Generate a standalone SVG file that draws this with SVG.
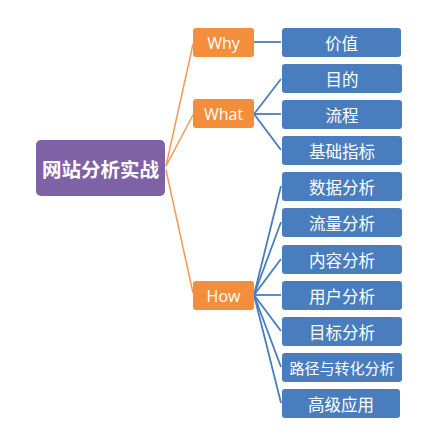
<svg xmlns="http://www.w3.org/2000/svg" width="441" height="439" viewBox="0 0 441 439">
<style>
.root{fill:#7f62a6}
.mid{fill:#f28e3c}
.leaf{fill:#4a7dbd}
text{fill:#fff;font-family:"Noto Sans CJK SC","Noto Sans",sans-serif;text-anchor:middle;dominant-baseline:central}
.t1{font-size:19.5px;font-weight:bold}
.t2{font-size:16px;font-family:"Open Sans","Noto Sans",sans-serif}
.t3{font-size:16.5px}
.t4{font-size:15px}
.lo{stroke:#f2995a;stroke-width:1.5;fill:none}
.lb{stroke:#4a7dbd;stroke-width:1.8;fill:none}
</style>
<rect width="441" height="439" fill="#fff"/>
<g id="connectors">
<line class="lo" x1="166" y1="166" x2="193" y2="44"/>
<line class="lo" x1="166" y1="166" x2="193" y2="115"/>
<line class="lo" x1="166" y1="170" x2="193" y2="293"/>
<line class="lb" x1="254" y1="42" x2="281" y2="42"/>
<line class="lb" x1="254" y1="114" x2="281" y2="79"/>
<line class="lb" x1="254" y1="114" x2="281" y2="114"/>
<line class="lb" x1="254" y1="114" x2="281" y2="150"/>
<line class="lb" x1="254" y1="295" x2="281" y2="186"/>
<line class="lb" x1="254" y1="295" x2="281" y2="222"/>
<line class="lb" x1="254" y1="295" x2="281" y2="259"/>
<line class="lb" x1="254" y1="295" x2="281" y2="295"/>
<line class="lb" x1="254" y1="295" x2="281" y2="331"/>
<line class="lb" x1="254" y1="295" x2="281" y2="367"/>
<line class="lb" x1="254" y1="295" x2="281" y2="403"/>
</g>
<g id="root"><rect class="root" x="36" y="140" width="129" height="56" rx="5"/><text class="t1" x="100.5" y="168">网站分析实战</text></g>
<g id="why"><rect class="mid" x="193" y="28" width="61" height="29" rx="3"/><text class="t2" x="223.5" y="42.5">Why</text></g>
<g id="what"><rect class="mid" x="193" y="99" width="61" height="29" rx="3"/><text class="t2" x="223.5" y="113.5">What</text></g>
<g id="how"><rect class="mid" x="193" y="281" width="61" height="29" rx="3"/><text class="t2" x="223.5" y="295.5">How</text></g>
<g id="n1"><rect class="leaf" x="282" y="28" width="119" height="29" rx="3"/><text class="t3" x="341.5" y="42.5">价值</text></g>
<g id="n2"><rect class="leaf" x="282" y="64" width="120" height="29" rx="3"/><text class="t3" x="342" y="78.5">目的</text></g>
<g id="n3"><rect class="leaf" x="282" y="100" width="120" height="29" rx="3"/><text class="t3" x="342" y="114.5">流程</text></g>
<g id="n4"><rect class="leaf" x="282" y="136" width="120" height="29" rx="3"/><text class="t3" x="342" y="150.5">基础指标</text></g>
<g id="n5"><rect class="leaf" x="282" y="172" width="120" height="29" rx="3"/><text class="t3" x="342" y="186.5">数据分析</text></g>
<g id="n6"><rect class="leaf" x="282" y="208" width="120" height="29" rx="3"/><text class="t3" x="342" y="222.5">流量分析</text></g>
<g id="n7"><rect class="leaf" x="282" y="245" width="120" height="29" rx="3"/><text class="t3" x="342" y="259.5">内容分析</text></g>
<g id="n8"><rect class="leaf" x="282" y="281" width="120" height="29" rx="3"/><text class="t3" x="342" y="295.5">用户分析</text></g>
<g id="n9"><rect class="leaf" x="282" y="317" width="120" height="29" rx="3"/><text class="t3" x="342" y="331.5">目标分析</text></g>
<g id="n10"><rect class="leaf" x="282" y="353" width="120" height="29" rx="3"/><text class="t4" x="342" y="367.5">路径与转化分析</text></g>
<g id="n11"><rect class="leaf" x="282" y="389" width="118" height="29" rx="3"/><text class="t3" x="341" y="403.5">高级应用</text></g>
</svg>
